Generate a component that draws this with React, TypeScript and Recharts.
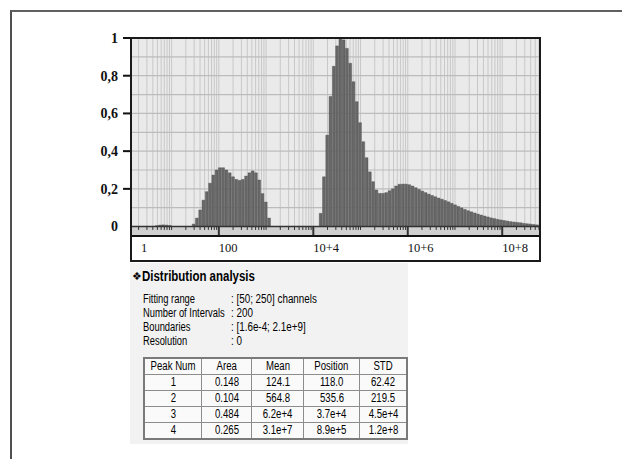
import React from "react";
import {
  Bar,
  CartesianGrid,
  ComposedChart,
  ReferenceArea,
  ReferenceLine,
  XAxis,
  YAxis,
} from "recharts";

// x is log10 of size; one interval is 1/14.4 of a decade
const logMin = 0.14;
const logMax = 8.8;
const binWidth = 1 / 14.4;

const traceStart = 0.69;
const traceHeights = [0.005, 0.008, 0.009, 0.008, 0.006];

const firstModeStart = 1.47;
const firstModeHeights = [
  0.013, 0.045, 0.088, 0.14, 0.185, 0.23, 0.273, 0.3, 0.312, 0.312, 0.3, 0.285,
  0.264, 0.25, 0.245, 0.25, 0.268, 0.285, 0.295, 0.285, 0.247, 0.175, 0.13, 0.045,
];

const secondModeStart = 4.16;
const secondModeHeights = [
  0.07, 0.264, 0.485, 0.69, 0.85, 0.958, 1.0, 0.99, 0.945, 0.866, 0.768, 0.662,
  0.551, 0.45, 0.365, 0.29, 0.238, 0.194, 0.176, 0.176, 0.18, 0.19, 0.2, 0.215,
  0.224, 0.225, 0.225, 0.222, 0.215, 0.206, 0.197, 0.188, 0.18,
];

const tailStart = 6.45;
const tailHeights = [
  0.172, 0.165, 0.158, 0.151, 0.145, 0.138, 0.131, 0.123, 0.115, 0.107, 0.099,
  0.091, 0.084, 0.078, 0.072, 0.066, 0.061, 0.056, 0.051, 0.046, 0.042, 0.038,
  0.035, 0.032, 0.029, 0.026, 0.024, 0.022, 0.02, 0.017, 0.015, 0.013, 0.011, 0.009,
];

const yTicks = [0, 0.1, 0.2, 0.3, 0.4, 0.5, 0.6, 0.7, 0.8, 0.9, 1];
// decade exponents that carry a label; "1" sits at the left edge of the axis
const xLabelDecades = [0, 2, 4, 6, 8];
const xLabels = ["1", "100", "10+4", "10+6", "10+8"];

const infoLabels = ["Fitting range", "Number of Intervals", "Boundaries", "Resolution"];
const infoValues = ["[50; 250] channels", "200", "[1.6e-4; 2.1e+9]", "0"];

const peakHeaders = ["Peak Num", "Area", "Mean", "Position", "STD"];
const peakNums = ["1", "2", "3", "4"];
const peakAreas = ["0.148", "0.104", "0.484", "0.265"];
const peakMeans = ["124.1", "564.8", "6.2e+4", "3.1e+7"];
const peakPositions = ["118.0", "535.6", "3.7e+4", "8.9e+5"];
const peakStds = ["62.42", "219.5", "4.5e+4", "1.2e+8"];

const segments: [number, number[]][] = [
  [traceStart, traceHeights],
  [firstModeStart, firstModeHeights],
  [secondModeStart, secondModeHeights],
  [tailStart, tailHeights],
];
const histData = segments.flatMap(([start, hs]) =>
  hs.map((v, i) => ({ x: start + i * binWidth, v }))
);

// log minor grid: k * 10^d
const gridTicks: number[] = [];
for (let d = 0; d <= 8; d++) {
  for (let k = 1; k <= 9; k++) {
    const t = d + Math.log10(k);
    if (t > logMin && t < logMax) gridTicks.push(t);
  }
}
const xTicks = [logMin, ...gridTicks];

const W = 560;
const H = 270;
const margin = { top: 38, right: 20, bottom: 9, left: 91 };
const yAxisWidth = 40;

const serif = "'Liberation Serif', 'Times New Roman', serif";
const sans = "'Liberation Sans', Arial, sans-serif";

function YTick(props: any) {
  const { x, y, payload } = props;
  const v = payload.value as number;
  if (Math.round(v * 10) % 2 !== 0) return <g />;
  const label = v === 0 ? "0" : v === 1 ? "1" : v.toFixed(1).replace(".", ",");
  return (
    <g>
      {v > 0 && <line x1={x + 4} x2={x + 12} y1={y} y2={y} stroke="#111" strokeWidth={2} />}
      <text x={x - 1} y={y} dy="0.35em" textAnchor="end" fontFamily={serif} fontSize={14} fontWeight={700} fill="#111">
        {label}
      </text>
    </g>
  );
}

function XTick(props: any) {
  const { x, y, payload } = props;
  const v = payload.value as number;
  let label: string | null = null;
  let tx = x;
  if (v === logMin) {
    label = xLabels[0];
    tx = x + 10;
  } else {
    const r = Math.round(v);
    const i = xLabelDecades.indexOf(r);
    if (Math.abs(v - r) < 1e-9 && i > 0) label = xLabels[i];
  }
  if (!label) return <g />;
  return (
    <text x={tx} y={y + 12} dy="0.35em" textAnchor="start" fontFamily={serif} fontSize={12.5} fill="#111">
      {label}
    </text>
  );
}

function Narrow({ children, scale = 0.8, origin = "left" }: any) {
  return (
    <span
      style={{
        display: "inline-block",
        transform: `scaleX(${scale})`,
        transformOrigin: origin,
        whiteSpace: "nowrap",
      }}
    >
      {children}
    </span>
  );
}

const colWidths = [52, 50, 51, 56, 46];
const tableRows = peakNums.map((n, i) => [n, peakAreas[i], peakMeans[i], peakPositions[i], peakStds[i]]);

export default function App() {
  return (
    <div style={{ position: "relative", width: 622, height: 459, overflow: "hidden", background: "#fff" }}>
      <style>{"body{margin:0;overflow:hidden}"}</style>
      {/* outer frame */}
      <div
        style={{
          position: "absolute",
          left: 10,
          top: 10,
          width: 620,
          height: 460,
          borderLeft: "2px solid #505050",
          borderTop: "2px solid #606060",
        }}
      />
      <div style={{ position: "absolute", left: 0, top: 0 }}>
        <ComposedChart width={W} height={H} data={histData} margin={margin}>
          <CartesianGrid stroke="#c8c8c8" fill="#eaeaea" fillOpacity={1} horizontal={false} />
          <XAxis
            type="number"
            dataKey="x"
            domain={[logMin, logMax]}
            allowDataOverflow
            ticks={xTicks}
            interval={0}
            height={25}
            tickSize={0}
            tickMargin={0}
            tickLine={false}
            axisLine={{ stroke: "#111", strokeWidth: 2 }}
            tick={<XTick />}
          />
          <YAxis
            type="number"
            domain={[-0.05, 1]}
            allowDataOverflow
            ticks={yTicks}
            interval={0}
            width={yAxisWidth}
            tickSize={8}
            tickMargin={4}
            tickLine={false}
            axisLine={false}
            tick={<YTick />}
          />
          {yTicks.slice(1, -1).map((t) => (
            <ReferenceLine key={"h" + t} y={t} stroke="#bcbcbc" strokeWidth={1.2} zIndex={-50} />
          ))}
          <ReferenceArea y1={-0.05} y2={0} fill="#d0d0d0" fillOpacity={1} stroke="none" />
          {gridTicks.map((t) => {
            const major = Math.abs(t - Math.round(t)) < 1e-9 && Math.round(t) % 2 === 0;
            return (
              <ReferenceLine
                key={t}
                segment={[
                  { x: t, y: 0 },
                  { x: t, y: major ? -0.05 : -0.018 },
                ]}
                stroke="#333"
                strokeWidth={major ? 2 : 1}
              />
            );
          })}
          <ReferenceLine y={0} stroke="#333" strokeWidth={1.5} />
          <Bar
            dataKey="v"
            fill="#686868"
            stroke="#4a4a4a"
            strokeWidth={0.4}
            barSize={2.8}
            isAnimationActive={false}
          />
        </ComposedChart>
      </div>
      {/* plot frame */}
      <div
        style={{
          position: "absolute",
          left: 130,
          top: 37,
          width: 411,
          height: 225,
          boxSizing: "border-box",
          border: "2px solid #1a1a1a",
        }}
      />
      {/* distribution analysis panel */}
      <div
        style={{
          position: "absolute",
          left: 130,
          top: 263,
          width: 278,
          height: 181,
          background: "#f2f2f2",
          fontFamily: sans,
          color: "#000",
        }}
      >
        <div style={{ position: "absolute", left: 2, top: 5, fontSize: 11, lineHeight: "16px" }}>❖</div>
        <div style={{ position: "absolute", left: 12, top: 4, fontSize: 14, fontWeight: 700, lineHeight: "18px" }}>
          <Narrow scale={0.82}>Distribution analysis</Narrow>
        </div>
        {infoLabels.map((l, i) => (
          <React.Fragment key={l}>
            <div style={{ position: "absolute", left: 13, top: 28 + i * 14, fontSize: 12, lineHeight: "16px" }}>
              <Narrow scale={0.78}>{l}</Narrow>
            </div>
            <div style={{ position: "absolute", left: 101, top: 28 + i * 14, fontSize: 12, lineHeight: "16px" }}>
              <Narrow scale={0.82}>{":  " + infoValues[i]}</Narrow>
            </div>
          </React.Fragment>
        ))}
        <table
          style={{
            position: "absolute",
            left: 13,
            top: 94,
            borderCollapse: "collapse",
            border: "2px solid #7a7a7a",
            fontSize: 12,
            tableLayout: "fixed",
          }}
        >
          <tbody>
            {[peakHeaders, ...tableRows].map((row, r) => (
              <tr key={r}>
                {row.map((c, j) => (
                  <td
                    key={j}
                    style={{
                      width: colWidths[j],
                      height: 15,
                      padding: 0,
                      border: "1px solid #8c8c8c",
                      background: "#fafafa",
                      textAlign: "center",
                      lineHeight: "15px",
                      overflow: "hidden",
                    }}
                  >
                    <Narrow scale={0.8} origin="center">
                      {c}
                    </Narrow>
                  </td>
                ))}
              </tr>
            ))}
          </tbody>
        </table>
      </div>
    </div>
  );
}
